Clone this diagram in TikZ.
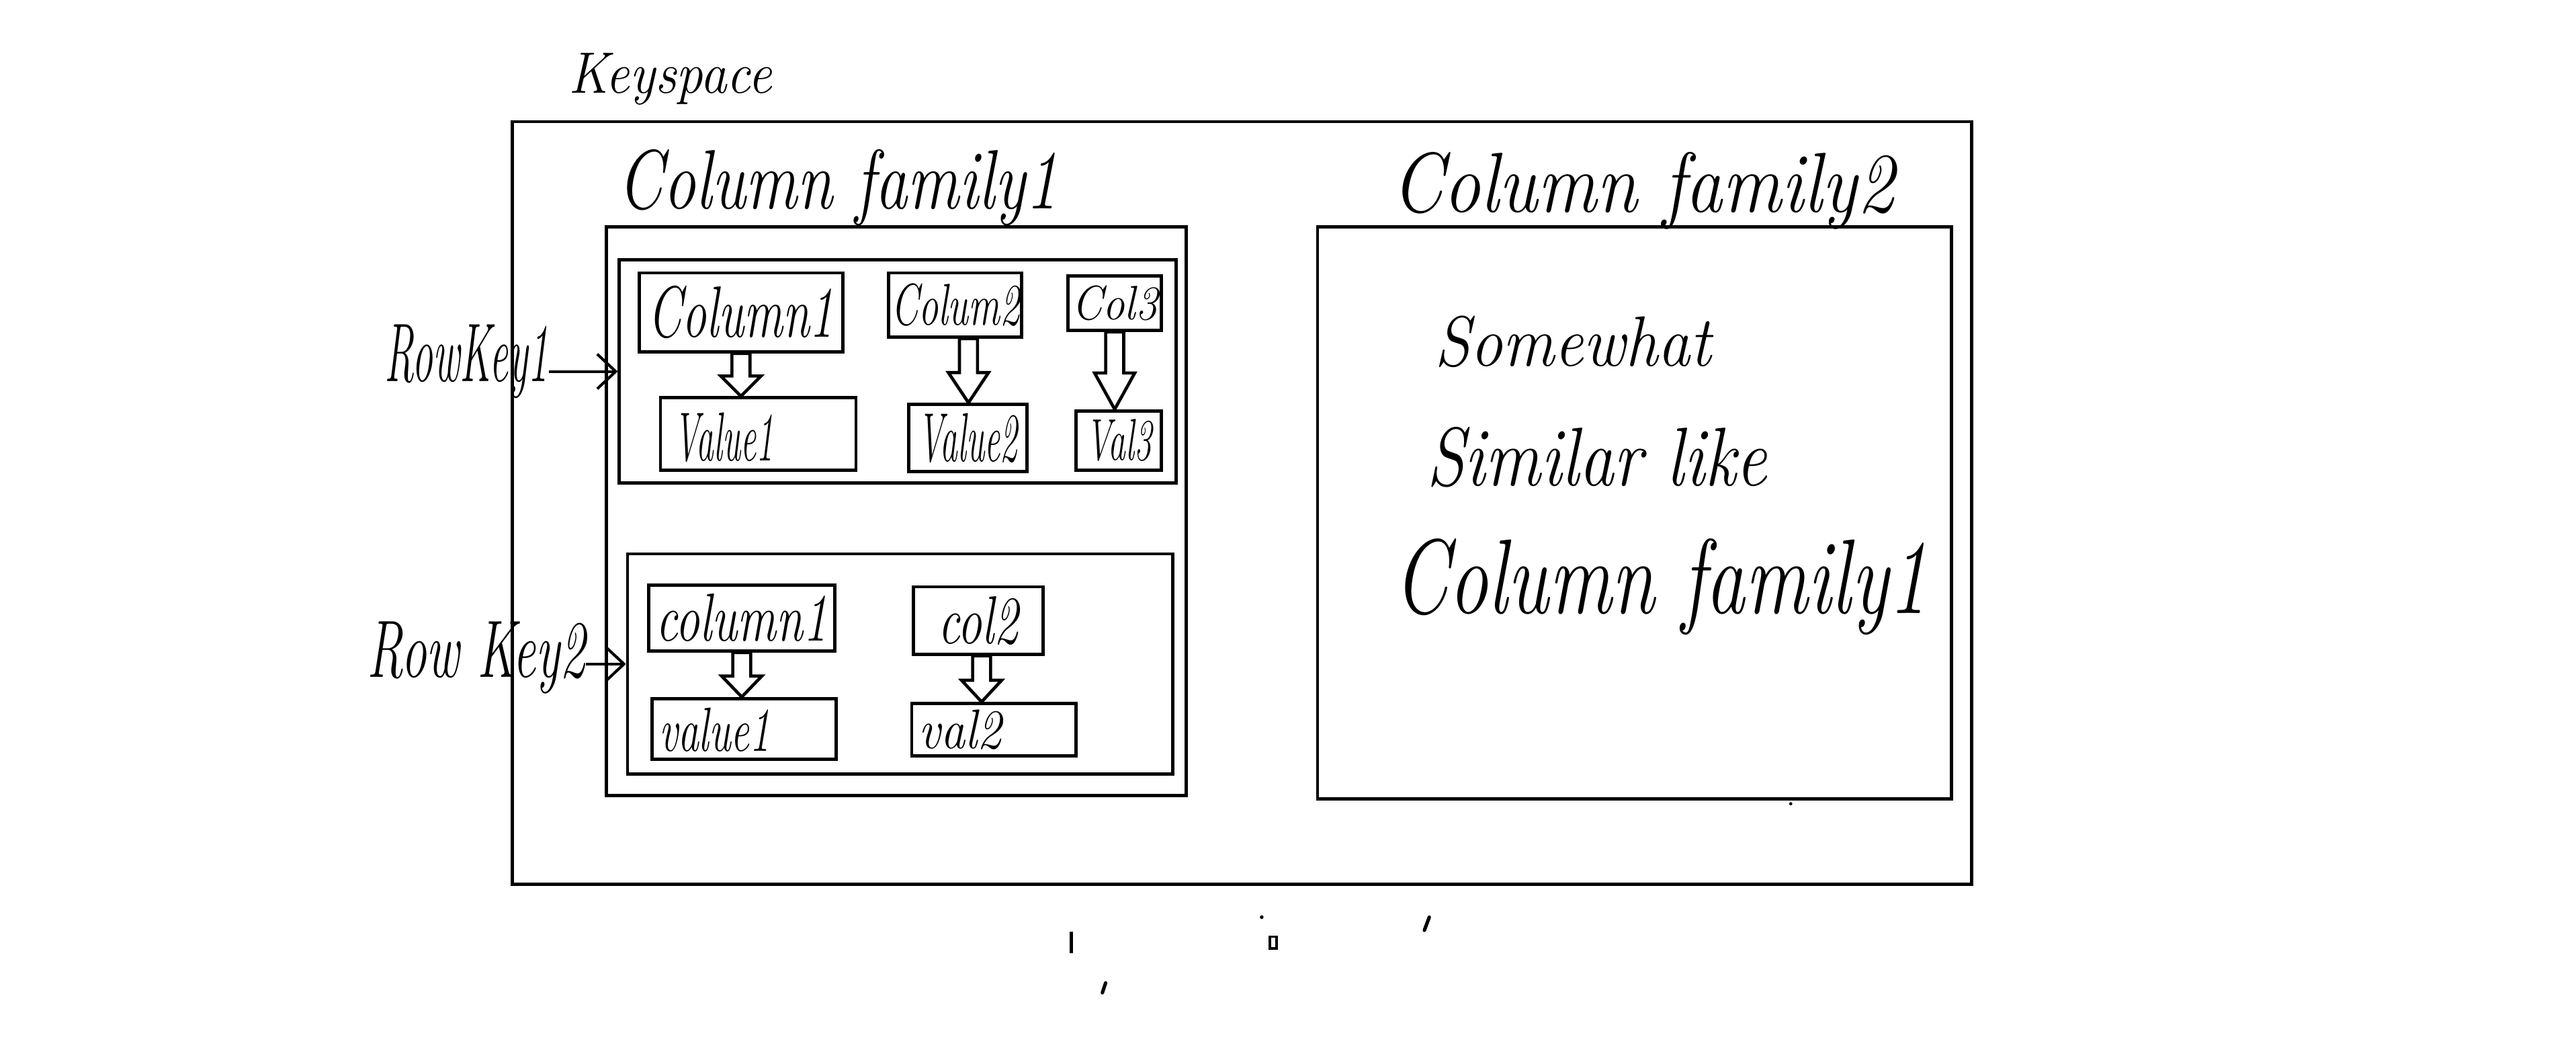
\documentclass[tikz,border=0pt]{standalone}
\usepackage{graphicx}
\usetikzlibrary{arrows.meta,calc}
\newcommand\fsz[1]{\fontsize{#1}{#1}\selectfont}
\newcommand\tx[3]{\scalebox{1}[#2]{\fsz{#1}#3}}
\tikzset{
  box/.style={draw, line width=1.4pt, inner sep=0pt},
  sz/.style 2 args={minimum width=#1*0.025cm, minimum height=#2*0.025cm},
  lbl/.style={inner sep=0pt},
  blk/.style={draw, line width=1.35pt, fill=white, line join=miter},
  keyarr/.style={line width=1.2pt, -{Straight Barb[length=8pt,width=15pt]}}
}
\newcommand\blockarrow[3][0]{%
  \draw[blk] let \p1=($(#2.south)+(#1,0)$), \p2=(#3.north), \p3=(\x1,{\y2+0.47*(\y1-\y2)}) in
    (\x1-3.9pt,\y1) -- (\x1+3.9pt,\y1) -- (\x1+3.9pt,\y3) -- (\x1+8.7pt,\y3) -- (\x1,\y2) -- (\x1-8.7pt,\y3) -- (\x1-3.9pt,\y3) -- cycle;}
\begin{document}
\begin{tikzpicture}[x=0.025cm,y=-0.025cm,font=\itshape]
\useasboundingbox (0,0) rectangle (1568,641);

% outer boxes
\node[box, sz={888}{464}] (ks) at (756,306) {};
\node[lbl] (kslbl) at (408,48) {\tx{23}{1.1}{Keyspace}};
\node[box, sz={353}{346}] (cf1) at (545.5,311) {};
\node[lbl] (cf1lbl) at (510,114) {\tx{28}{1.3}{Column family1}};
\node[box, sz={386}{348}] (cf2) at (995,312) {};
\node[lbl] (cf2lbl) at (1000,116) {\tx{32}{1.15}{Column family2}};

% row 1
\node[box, sz={339}{136}] (row1) at (546.5,226) {};
\node[box, sz={124}{48}] (c11) at (451,190) {\tx{21}{1.5}{Column1}};
\node[box, sz={119}{44}] (v11) at (461.5,264) {};
\node[lbl, anchor=west] (v11lbl) at (410,266) {\tx{15}{2}{Value1}};
\node[box, sz={81}{39}] (c12) at (581.5,185.5) {\tx{17}{1.5}{Colum2}};
\node[box, sz={72}{41}] (v12) at (589,266.5) {\tx{15}{2}{Value2}};
\node[box, sz={57}{33}] (c13) at (678.5,184.5) {\tx{19}{1.1}{Col3}};
\node[box, sz={52}{36}] (v13) at (681,268) {\tx{15}{1.7}{Val3}};
\blockarrow{c11}{v11}
\blockarrow[8]{c12}{v12}
\blockarrow{c13}{v13}

% row 2
\node[box, sz={332}{134}] (row2) at (548,404) {};
\node[box, sz={113}{40}] (c21) at (451.5,376) {\tx{21}{1.4}{column1}};
\node[box, sz={112}{37}] (v21) at (453,443.5) {};
\node[lbl, anchor=west] (v21lbl) at (401,444) {\tx{18}{1.5}{value1}};
\node[box, sz={79}{41}] (c22) at (595.5,377.5) {\tx{21}{1.4}{col2}};
\node[box, sz={100}{32}] (v22) at (605,444) {};
\node[lbl, anchor=west] (v22lbl) at (559,444) {\tx{21}{1.15}{val2}};
\blockarrow{c21}{v21}
\blockarrow[2]{c22}{v22}

% row keys
\node[lbl] (rk1) at (284,220) {\tx{18}{2}{RowKey1}};
\draw[keyarr] (rk1.east |- row1.west) -- (row1.west);
\node[lbl] (rk2) at (290,400) {\tx{22}{1.6}{Row Key2}};
\draw[keyarr] (rk2.east |- row2.west) -- (row2.west);

% column family 2 text
\node[lbl, anchor=west] (t1) at (873,208) {\tx{28}{1.1}{Somewhat}};
\node[lbl, anchor=west] (t2) at (868,278) {\tx{30}{1.2}{Similar like}};
\node[lbl, anchor=west] (t3) at (848,357) {\tx{34}{1.35}{Column family1}};

% stray marks
\draw[line width=1.4pt] (652,567) -- (652,580);
\draw[line width=1pt] (773,570) rectangle (777,577);
\fill (768,558) circle (0.8pt);
\draw[line width=1.5pt, line cap=round] (870,558) -- (867,566);
\draw[line width=1.5pt, line cap=round] (673,598) -- (671,604);
\fill (1090,489) circle (0.7pt);
\end{tikzpicture}
\end{document}
